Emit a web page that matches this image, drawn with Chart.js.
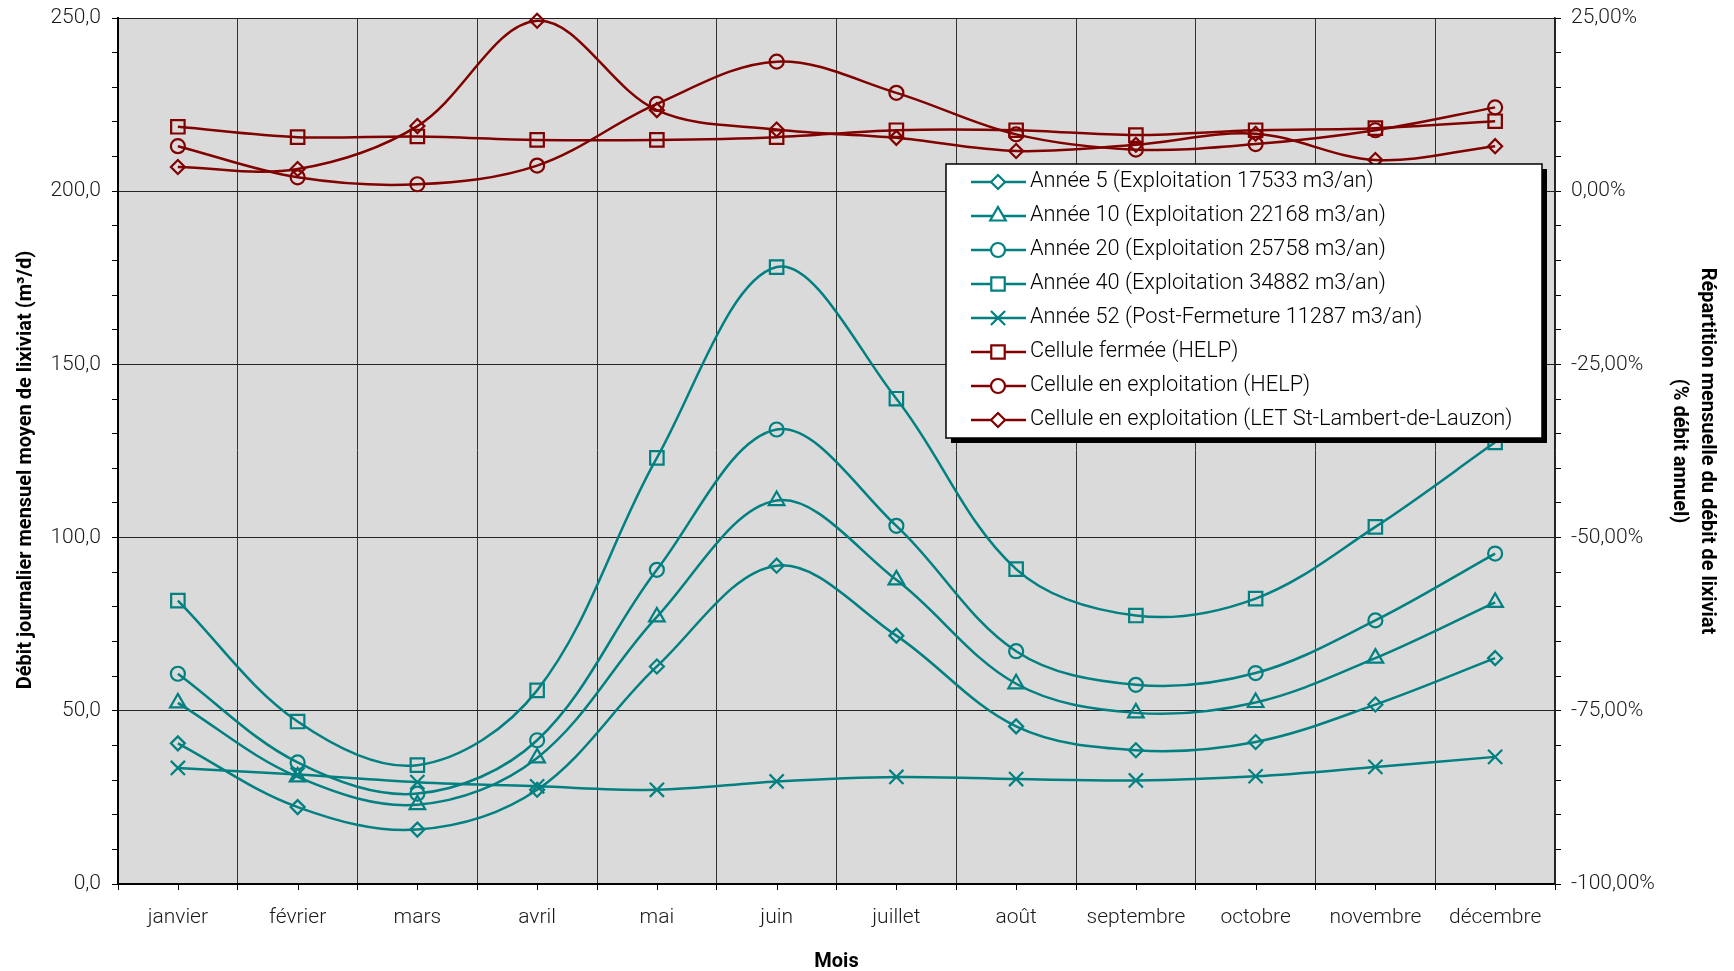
<!DOCTYPE html>
<html lang="fr">
<head>
<meta charset="utf-8">
<title>Débit journalier mensuel moyen de lixiviat</title>
<script src="https://cdn.jsdelivr.net/npm/chart.js@4/dist/chart.umd.min.js"></script>
<style>
  html, body { margin: 0; padding: 0; background: #fff; }
  #wrap { position: relative; width: 1734px; height: 971px; }
</style>
</head>
<body>
<div id="wrap"><canvas id="c" width="1734" height="971"></canvas></div>
<script>
// Mois de l'année
const mois = ['janvier', 'février', 'mars', 'avril', 'mai', 'juin',
              'juillet', 'août', 'septembre', 'octobre', 'novembre', 'décembre'];

// Débit journalier mensuel moyen (m3/d), axe de gauche
const annee5  = [40.6, 22.2, 15.7, 27.2, 62.8, 91.9, 71.7, 45.5, 38.6, 41.0, 51.8, 65.2];
const annee10 = [52.3, 30.9, 22.9, 36.4, 77.1, 110.7, 87.8, 57.8, 49.4, 52.4, 65.2, 81.3];
const annee20 = [60.7, 35.1, 26.1, 41.5, 90.7, 131.2, 103.4, 67.2, 57.5, 60.9, 76.1, 95.4];
const annee40 = [81.8, 46.9, 34.3, 55.9, 123.0, 178.1, 140.1, 90.9, 77.5, 82.4, 103.1, 127.5];
const annee52 = [33.5, 31.6, 29.4, 28.2, 27.2, 29.6, 30.9, 30.3, 29.9, 31.1, 33.8, 36.7];

// Répartition mensuelle du débit annuel (%), axe de droite
const celluleFermee   = [9.3, 7.8, 7.9, 7.4, 7.4, 7.8, 8.8, 8.8, 8.1, 8.8, 9.1, 10.1];
const celluleExplHelp = [6.5, 2.0, 1.0, 3.7, 12.6, 18.7, 14.2, 8.2, 6.0, 6.8, 8.8, 12.1];
const celluleExplLet  = [3.5, 3.2, 9.4, 24.6, 11.7, 8.9, 7.7, 5.8, 6.7, 8.3, 4.5, 6.5];

// Graduations
const debitMin = 0, debitMax = 250, debitPasMineur = 10, debitPasMajeur = 50;
const pctMin = -100, pctMax = 25, pctPasMineur = 5, pctPasMajeur = 25;

const TEAL = '#008080';
const MAROON = '#800000';
const FONT = 'Roboto, "Liberation Sans", sans-serif';

function serie(label, data, color, style, radius, axis) {
  return {
    label, data, yAxisID: axis,
    borderColor: color, backgroundColor: color,
    borderWidth: 2.5, tension: 0.35, fill: false, clip: false,
    pointStyle: style, pointRadius: radius, pointHoverRadius: radius,
    pointBorderColor: color, pointBackgroundColor: 'rgba(0,0,0,0)',
    pointBorderWidth: 2.2
  };
}

const datasets = [
  serie('Année 5 (Exploitation 17533 m3/an)', annee5, TEAL, 'rectRot', 7, 'y'),
  serie('Année 10 (Exploitation 22168 m3/an)', annee10, TEAL, 'triangle', 9, 'y'),
  serie('Année 20 (Exploitation 25758 m3/an)', annee20, TEAL, 'circle', 7, 'y'),
  serie('Année 40 (Exploitation 34882 m3/an)', annee40, TEAL, 'rect', 9.5, 'y'),
  serie('Année 52 (Post-Fermeture 11287 m3/an)', annee52, TEAL, 'crossRot', 10, 'y'),
  serie('Cellule fermée (HELP)', celluleFermee, MAROON, 'rect', 9.5, 'y2'),
  serie('Cellule en exploitation (HELP)', celluleExplHelp, MAROON, 'circle', 7, 'y2'),
  serie('Cellule en exploitation (LET St-Lambert-de-Lauzon)', celluleExplLet, MAROON, 'rectRot', 7, 'y2')
];

const isMult = (v, step) => Math.abs(Math.round(v / step) * step - v) < 1e-6;

// Fond gris de la zone de tracé
const fondZone = {
  id: 'fondZone',
  beforeDraw(chart) {
    const {ctx, chartArea: a} = chart;
    ctx.save();
    ctx.fillStyle = '#dadada';
    ctx.fillRect(a.left, a.top, a.right - a.left, a.bottom - a.top);
    ctx.restore();
  }
};

// Graduations au centre de chaque mois + titre de l'axe de gauche
const decorAxes = {
  id: 'decorAxes',
  afterDraw(chart) {
    const {ctx, chartArea: a} = chart;
    const xs = chart.scales.x;
    ctx.save();
    ctx.strokeStyle = '#000';
    ctx.lineWidth = 1;
    ctx.beginPath();
    mois.forEach((m, i) => {
      const x = Math.round(xs.getPixelForValue(i)) + 0.5;
      ctx.moveTo(x, a.bottom);
      ctx.lineTo(x, a.bottom + 6);
    });
    ctx.stroke();

    ctx.translate(26, 470);
    ctx.rotate(-Math.PI / 2);
    ctx.fillStyle = '#000';
    ctx.font = 'bold 20px ' + FONT;
    ctx.textAlign = 'center';
    ctx.textBaseline = 'middle';
    ctx.fillText('Débit journalier mensuel moyen de lixiviat (m³/d)', 0, 0);
    ctx.restore();
  }
};

// Légende encadrée avec ombre portée
const legendeCadre = {
  id: 'legendeCadre',
  afterDraw(chart) {
    const {ctx} = chart;
    const L = 946, T = 164, R = 1542, B = 438;
    ctx.save();
    ctx.fillStyle = '#000';
    ctx.fillRect(L + 5, T + 5, R - L, B - T);
    ctx.fillStyle = '#fff';
    ctx.fillRect(L, T, R - L, B - T);
    ctx.strokeStyle = '#000';
    ctx.lineWidth = 1.5;
    ctx.strokeRect(L, T, R - L, B - T);

    ctx.font = '300 21.8px ' + FONT;
    ctx.textAlign = 'left';
    ctx.textBaseline = 'middle';
    chart.data.datasets.forEach((ds, i) => {
      const y = 182 + i * 34;
      ctx.strokeStyle = ds.borderColor;
      ctx.lineWidth = ds.borderWidth;
      ctx.beginPath();
      ctx.moveTo(971, y);
      ctx.lineTo(1026, y);
      ctx.stroke();
      ctx.lineWidth = ds.pointBorderWidth;
      ctx.fillStyle = '#fff';
      Chart.helpers.drawPoint(ctx, {
        pointStyle: ds.pointStyle, radius: ds.pointRadius,
        borderWidth: ds.pointBorderWidth, rotation: 0
      }, 998, y);
      ctx.fillStyle = '#000';
      ctx.fillText(ds.label, 1030, y);
    });
    ctx.restore();
  }
};

const tickFont = {family: FONT, size: 21, weight: 300};
const titleFont = {family: FONT, size: 20, weight: 'bold'};

// Pas de marge supplémentaire au-dessus/au-dessous des axes verticaux
const axeVertical = width => s => { s.width = width; s.paddingTop = 0; s.paddingBottom = 0; };

new Chart(document.getElementById('c'), {
  type: 'line',
  data: {labels: mois, datasets},
  plugins: [fondZone, decorAxes, legendeCadre],
  options: {
    responsive: false,
    animation: false,
    devicePixelRatio: 1,
    layout: {padding: {top: 18, left: 0, right: 0, bottom: 0}},
    plugins: {legend: {display: false}, tooltip: {enabled: false}},
    scales: {
      x: {
        type: 'category',
        offset: true,
        grid: {offset: true, color: '#333', lineWidth: 1, tickLength: 6, tickColor: '#000', drawTicks: true},
        border: {display: true, color: '#000', width: 2},
        ticks: {font: tickFont, color: '#1a1a1a', padding: 15, autoSkip: false, maxRotation: 0},
        title: {display: true, text: 'Mois', font: {family: FONT, size: 20, weight: 'bold', lineHeight: 0.7}, color: '#000', padding: {top: 0, bottom: 2}},
        afterFit: s => { s.height = 87; }
      },
      y: {
        position: 'left',
        min: debitMin, max: debitMax,
        ticks: {
          stepSize: debitPasMineur, maxTicksLimit: 100, autoSkip: false,
          padding: 11, font: tickFont, color: '#1a1a1a',
          callback: v => isMult(v, debitPasMajeur) ? v.toFixed(1).replace('.', ',') : ''
        },
        grid: {
          color: c => (c.tick && isMult(c.tick.value, debitPasMajeur)) ? '#222' : 'rgba(0,0,0,0)',
          tickColor: '#000', tickLength: 6, lineWidth: 1
        },
        border: {display: true, color: '#000', width: 2},
        afterFit: axeVertical(118)
      },
      y2: {
        position: 'right',
        min: pctMin, max: pctMax,
        ticks: {
          stepSize: pctPasMineur, maxTicksLimit: 100, autoSkip: false,
          padding: 10, font: tickFont, color: '#1a1a1a',
          callback: v => isMult(v, pctPasMajeur) ? (Math.abs(v) < 1e-9 ? 0 : v).toFixed(2).replace('.', ',') + '%' : ''
        },
        grid: {drawOnChartArea: false, tickColor: '#000', tickLength: 6},
        border: {display: true, color: '#222', width: 1.5},
        title: {
          display: true,
          text: ['Répartition mensuelle du débit de lixiviat', '(% débit annuel)'],
          font: {family: FONT, size: 20, weight: 'bold', lineHeight: 1.4},
          color: '#000', padding: {top: 13, bottom: 0}
        },
        afterFit: axeVertical(179)
      }
    }
  }
});
</script>
</body>
</html>
